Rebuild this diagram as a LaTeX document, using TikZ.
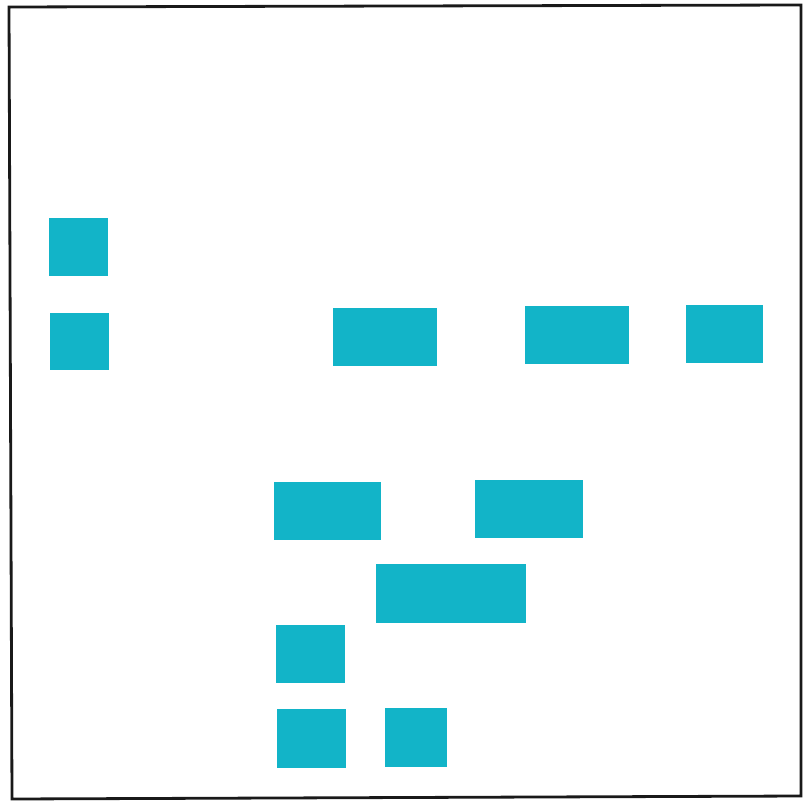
\documentclass[tikz,border=0pt]{standalone}
\definecolor{tealbox}{RGB}{18,180,200}
\tikzset{
  tbox/.style={fill=tealbox, draw=none, inner sep=0pt, outer sep=0pt, anchor=north west},
}
\newcommand{\tb}[5]{\node[tbox, minimum width=#4pt, minimum height=#5pt] (#1) at (#2,#3) {};}
\begin{document}
\begin{tikzpicture}[x=1pt,y=-1pt]
\useasboundingbox (0,0) rectangle (805,802);
\fill[white] (0,0) rectangle (805,802);
\draw[line width=2.8pt, black!90] (9,7) -- (801,5) -- (801,796) -- (12,799) -- cycle;
\tb{a}{49}{218}{59}{58}
\tb{b}{50}{313}{59}{57}
\tb{c}{333}{308}{104}{58}
\tb{d}{525}{306}{104}{58}
\tb{e}{686}{305}{77}{58}
\tb{f}{274}{482}{107}{58}
\tb{g}{475}{480}{108}{58}
\tb{h}{376}{564}{150}{59}
\tb{i}{276}{625}{69}{58}
\tb{j}{277}{709}{69}{59}
\tb{k}{385}{708}{62}{59}
\end{tikzpicture}
\end{document}
